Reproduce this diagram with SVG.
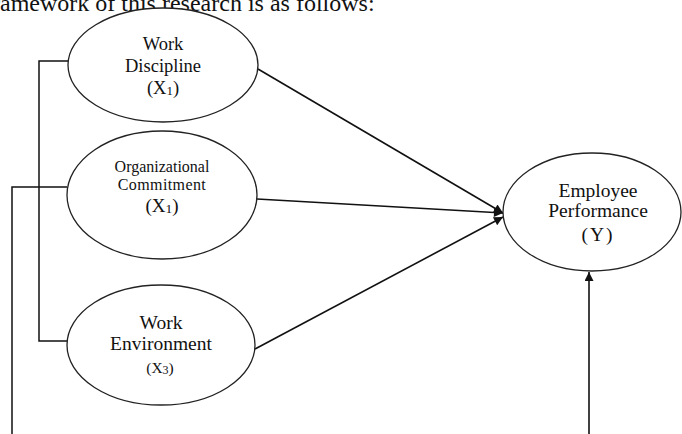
<svg xmlns="http://www.w3.org/2000/svg" width="682" height="434" viewBox="0 0 682 434">
<style>
.n{fill:#fff;stroke:#222;stroke-width:1.3}
.t{font-family:"Liberation Serif","Times New Roman",serif;fill:#111;text-anchor:middle}
.c{fill:none;stroke:#111;stroke-width:1.5}
.a{fill:none;stroke:#111;stroke-width:1.6}
</style>
<defs>
<marker id="ah" viewBox="0 0 10 10" refX="10" refY="5" markerWidth="11" markerHeight="9" markerUnits="userSpaceOnUse" orient="auto">
<path d="M0,0 L10,5 L0,10 Z" fill="#111"/>
</marker>
</defs>
<text x="-16" y="11" font-family="Liberation Serif, serif" font-size="24" fill="#111">framework of this research is as follows:</text>
<g id="connectors">
<polyline class="c" points="68,61 39,61 39,341 67,341"/>
<polyline class="c" points="67,187 12,187 12,434"/>
<line class="a" x1="258" y1="69" x2="503" y2="213" marker-end="url(#ah)"/>
<line class="a" x1="257" y1="199" x2="503" y2="213" marker-end="url(#ah)"/>
<line class="a" x1="255" y1="349" x2="503" y2="217" marker-end="url(#ah)"/>
<line class="a" x1="589" y1="434" x2="589" y2="272" marker-end="url(#ah)"/>
</g>
<g id="x1">
<ellipse class="n" cx="163" cy="65" rx="95" ry="57"/>
<text class="t" font-size="18.5"><tspan x="163" y="50">Work</tspan><tspan x="163" y="72">Discipline</tspan><tspan x="163" y="94">(X<tspan font-size="13" dy="1">1</tspan><tspan dy="-1">)</tspan></tspan></text>
</g>
<g id="x2">
<ellipse class="n" cx="162" cy="195" rx="95" ry="64"/>
<text class="t" font-size="16"><tspan x="162" y="172">Organizational</tspan><tspan x="162" y="190" letter-spacing="0.4">Commitment</tspan></text>
<text class="t" font-size="19" x="162" y="212">(X<tspan font-size="13.5" dy="1">1</tspan><tspan dy="-1">)</tspan></text>
</g>
<g id="x3">
<ellipse class="n" cx="161" cy="345" rx="94" ry="60"/>
<text class="t" font-size="19.5"><tspan x="161" y="329">Work</tspan><tspan x="161" y="350">Environment</tspan></text>
<text class="t" font-size="15.5" x="160" y="373">(X<tspan font-size="12" dy="1">3</tspan><tspan dy="-1">)</tspan></text>
</g>
<g id="y">
<ellipse class="n" cx="592" cy="212" rx="89" ry="59"/>
<text class="t" font-size="19.5"><tspan x="598" y="197">Employee</tspan><tspan x="598" y="217">Performance</tspan><tspan x="598" y="241" letter-spacing="2">(Y)</tspan></text>
</g>
</svg>
